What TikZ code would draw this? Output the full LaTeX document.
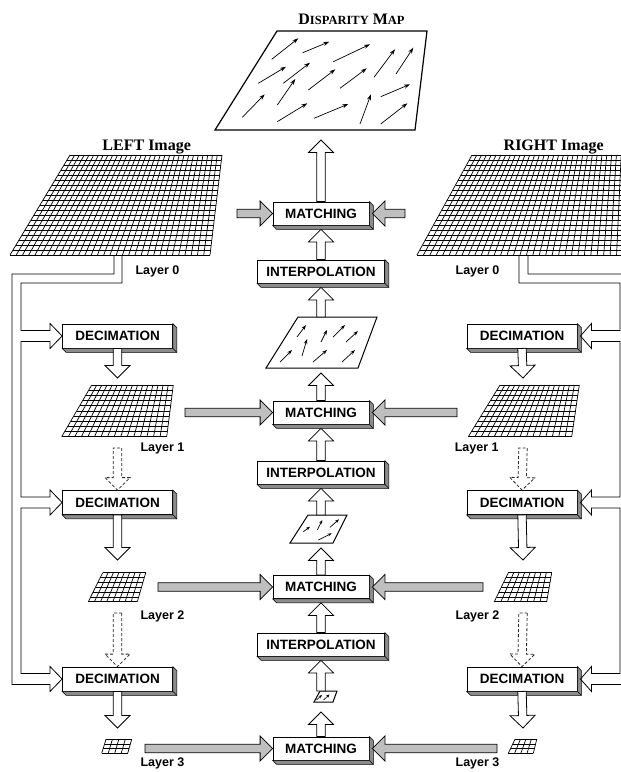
\documentclass[tikz,border=0pt]{standalone}
\usepackage{fontspec}
\setmainfont{Liberation Serif}
\setsansfont{Liberation Sans}
\usetikzlibrary{calc,arrows.meta}
\tikzset{
  box/.style={draw,fill=white,line width=0.8pt,inner sep=0pt,minimum height=23pt,
    font=\sffamily\bfseries\fontsize{13.5}{15}\selectfont},
  lay/.style={anchor=base,font=\sffamily\bfseries\fontsize{12.5}{14}\selectfont},
  ttl/.style={anchor=base,font=\bfseries\fontsize{16}{18}\selectfont},
  gridln/.style={line width=0.7pt},
  vec/.style={line width=0.7pt,-{Stealth[length=6pt,width=4pt]}},
  pipe/.style={line width=0.8pt,line join=miter},
  blk/.style={draw,fill=white,line width=0.8pt,
    to path={let \p1=(\tikztostart), \p2=(\tikztotarget), \p3=($(\p2)!12.5pt!(\p1)$) in
      ($(\p1)!4.2pt!90:(\p2)$) -- ($(\p3)!4.2pt!90:(\p2)$) -- ($(\p3)!12.5pt!90:(\p2)$)
      -- (\p2) -- ($(\p3)!12.5pt!-90:(\p2)$) -- ($(\p3)!4.2pt!-90:(\p2)$)
      -- ($(\p1)!4.2pt!-90:(\p2)$) -- cycle}},
  gblk/.style={blk,fill=black!25},
  dblk/.style={blk,dash pattern=on 3pt off 2pt,draw=black!85},
}
\newcommand{\smc}[1]{{\fontsize{12.5}{14}\selectfont #1}}
% perspective grid: corners TL, TR, BR, BL, columns, rows
\newcommand{\pgrid}[6]{%
  \foreach \i in {0,...,#5}
    \draw[gridln] ($#1!\i/#5!#2$) -- ($#4!\i/#5!#3$);
  \foreach \j in {0,...,#6}
    \draw[gridln] ($#1!\j/#6!#4$) -- ($#2!\j/#6!#3$);}
% 3d side of a box
\newcommand{\bevel}[1]{%
  \filldraw[fill=black!45,line width=0.6pt] (#1.north east) -- ($(#1.north east)+(4,4)$)
    -- ($(#1.south east)+(4,4)$) -- ($(#1.south west)+(4,4)$) -- (#1.south west)
    -- (#1.south east) -- cycle;
  \draw[line width=0.6pt] (#1.south east) -- ++(4,4);}

\begin{document}
\begin{tikzpicture}[x=1pt,y=-1pt]
\useasboundingbox (0,0) rectangle (621,772);
\clip (0,0) rectangle (621,772);
\fill[white] (0,0) rectangle (621,772);

% titles
\node[ttl] (tdisp) at (351.5,24) {D\smc{ISPARITY} M\smc{AP}};
\node[ttl] (tleft) at (146.7,150) {LEFT Image};
\node[ttl] (tright) at (553.7,150) {RIGHT Image};

% image pyramids
\pgrid{(70,155)}{(222,155)}{(210,255)}{(10,255)}{32}{20}
\pgrid{(472,155)}{(626,155)}{(623,255)}{(417,255)}{32}{20}
\pgrid{(91.7,385)}{(173.3,385)}{(166.7,436.7)}{(61.7,436.7)}{16}{10}
\pgrid{(500,385)}{(579.3,385)}{(571.7,436.7)}{(468.3,436.7)}{16}{10}
\pgrid{(102.7,572.7)}{(145.7,572.7)}{(137.3,601.7)}{(88.3,601.7)}{8}{6}
\pgrid{(508.3,572.7)}{(551.7,572.7)}{(546.7,601.7)}{(494.3,601.7)}{8}{6}
\pgrid{(106,739.3)}{(131.7,739.3)}{(127.7,753.3)}{(101.7,753.3)}{4}{3}
\pgrid{(515,739.3)}{(536.7,739.3)}{(533.3,753.3)}{(508.3,753.3)}{4}{3}

% disparity maps
\draw[line width=1.2pt] (277,31) -- (427,31) -- (415,130) -- (215,130) -- cycle;
\foreach \ax/\ay/\bx/\by in {271.7/59.3/298.3/38.3, 302.7/52.7/329.3/41.7,
  333.3/61.7/370/44.3, 374/77.3/395/49.3, 396/74/413.3/47.7, 258.3/83.3/286/66.7,
  283.3/83.3/310/62.7, 308.3/90/335.3/69.3, 340/88.3/366.7/68.3, 242.3/117.3/264.7/94.3,
  277.3/105/295.3/79, 277.3/121.7/307.3/103.3, 314/118.3/348.3/104, 360/124/371/94.3,
  380.7/96.7/410/84.3, 380.7/124/407.3/103.3}
  \draw[vec] (\ax,\ay) -- (\bx,\by);
\draw[line width=1pt] (298,317) -- (377,317) -- (358,368) -- (266,368) -- cycle;
\foreach \ax/\ay/\bx/\by in {297/337/306/325, 321/342/327/330, 333/337/345/325,
  346/342/358/331, 280/362/292/350, 302/356/307/339, 313/362/327/350, 342/362/355/350}
  \draw[vec,-{Stealth[length=5pt,width=3.5pt]}] (\ax,\ay) -- (\bx,\by);
\draw[line width=1pt] (308,515) -- (347,515) -- (333,543) -- (290,543) -- cycle;
\foreach \ax/\ay/\bx/\by in {303.3/531.7/310/526.7, 317.3/530/322.3/520,
  330/527.3/339/519.3, 318.3/540/331.7/533.3}
  \draw[vec,-{Stealth[length=4pt,width=3pt]}] (\ax,\ay) -- (\bx,\by);
\draw[line width=1pt] (320,691) -- (337,691) -- (333,702) -- (314,702) -- cycle;
\foreach \ax/\ay/\bx/\by in {316.5/700/322/695, 323.5/700/329.5/694.5}
  \draw[vec,line width=0.6pt,-{Stealth[length=3.5pt,width=3pt]}] (\ax,\ay) -- (\bx,\by);

% processing boxes
\node[box,minimum width=96pt] (match0) at (321,213.5) {MATCHING};
\node[box,minimum width=127pt] (interp0) at (321,271.5) {INTERPOLATION};
\node[box,minimum width=96pt] (match1) at (321,412.5) {MATCHING};
\node[box,minimum width=127pt] (interp1) at (321,472.5) {INTERPOLATION};
\node[box,minimum width=96pt] (match2) at (321,587) {MATCHING};
\node[box,minimum width=127pt] (interp2) at (321,644.5) {INTERPOLATION};
\node[box,minimum width=96pt] (match3) at (321,748.5) {MATCHING};
\node[box,minimum width=110pt,minimum height=24pt] (decL1) at (117.5,336) {DECIMATION};
\node[box,minimum width=110pt,minimum height=24pt] (decL2) at (117.5,502.5) {DECIMATION};
\node[box,minimum width=110pt,minimum height=24pt] (decL3) at (117.5,679) {DECIMATION};
\node[box,minimum width=110pt,minimum height=24pt] (decR1) at (522,336) {DECIMATION};
\node[box,minimum width=110pt,minimum height=24pt] (decR2) at (522,502.5) {DECIMATION};
\node[box,minimum width=110pt,minimum height=24pt] (decR3) at (522,679) {DECIMATION};
\foreach \b in {match0,interp0,match1,interp1,match2,interp2,match3,
  decL1,decL2,decL3,decR1,decR2,decR3}
  {\bevel{\b}}

% layer 0 feed lines
\draw[pipe] (122,255) |- (21,283) -- (21,330.5) -- (50,330.5) -- (50,323.5) -- (decL1.west)
  -- (50,348.5) -- (50,341.5) -- (21,341.5) -- (21,497) -- (50,497) -- (50,490) -- (decL2.west)
  -- (50,515) -- (50,508) -- (21,508) -- (21,673.5) -- (50,673.5) -- (50,666.5) -- (decL3.west)
  -- (50,691.5) -- (50,684.5) -- (12,684.5) -- (12,274) -- (114,274) -- (114,255);
\draw[pipe] (519,255) |- (620,283) -- (620,330.5) -- (591.5,330.5) -- (591.5,323.5)
  -- ($(decR1.east)+(3,0)$) -- (591.5,348.5) -- (591.5,341.5) -- (620,341.5) -- (620,497)
  -- (591.5,497) -- (591.5,490) -- ($(decR2.east)+(3,0)$) -- (591.5,515) -- (591.5,508)
  -- (620,508) -- (620,673.5) -- (591.5,673.5) -- (591.5,666.5) -- ($(decR3.east)+(3,0)$)
  -- (591.5,691.5) -- (591.5,684.5) -- (629,684.5) -- (629,274) -- (528,274) -- (528,255);

% connector ends
\coordinate (m0b) at (321,140);
\coordinate (m1t) at (321,317);   \coordinate (m1b) at (321,373);
\coordinate (m2t) at (321,515);   \coordinate (m2b) at (321,548);
\coordinate (m3t) at (321,691);   \coordinate (m3b) at (321,712);
\coordinate (gL1t) at (117.5,378); \coordinate (gL1b) at (117.5,448);
\coordinate (gL2t) at (117.5,560); \coordinate (gL2b) at (117.5,613);
\coordinate (gL3t) at (117.5,728);
\coordinate (gR1t) at (523,378);   \coordinate (gR1b) at (523,448);
\coordinate (gR2t) at (523,560);   \coordinate (gR2b) at (523,613);
\coordinate (gR3t) at (523,728);
\coordinate (hL0) at (237,213.5);  \coordinate (hR0) at (405,213.5);
\coordinate (hL1) at (185,412.5);  \coordinate (hR1) at (457,412.5);
\coordinate (hL2) at (158,587);    \coordinate (hR2) at (483,587);
\coordinate (hL3) at (145,748.5);  \coordinate (hR3) at (497,748.5);

% coarse to fine
\draw[blk] (match0.north) to (m0b);
\draw[blk] (interp0.north) to ($(match0.south)+(0,4)$);
\draw[blk] (m1t) to ($(interp0.south)+(0,4)$);
\draw[blk] (match1.north) to (m1b);
\draw[blk] (interp1.north) to ($(match1.south)+(0,4)$);
\draw[blk] (m2t) to ($(interp1.south)+(0,4)$);
\draw[blk] (match2.north) to (m2b);
\draw[blk] (interp2.north) to ($(match2.south)+(0,4)$);
\draw[blk] (m3t) to ($(interp2.south)+(0,4)$);
\draw[blk] (match3.north) to (m3b);

% decimation
\draw[blk] (decL1.south) to (gL1t);
\draw[blk] (decL2.south) to (gL2t);
\draw[blk] (decL3.south) to (gL3t);
\draw[blk] (decR1.south) to (gR1t);
\draw[blk] (decR2.south) to (gR2t);
\draw[blk] (decR3.south) to (gR3t);
\draw[dblk] (gL1b) to (decL2.north);
\draw[dblk] (gL2b) to (decL3.north);
\draw[dblk] (gR1b) to (decR2.north);
\draw[dblk] (gR2b) to (decR3.north);

% layers into matching
\draw[gblk] (hL0) to (match0.west);
\draw[gblk] (hR0) to ($(match0.east)+(3,0)$);
\draw[gblk] (hL1) to (match1.west);
\draw[gblk] (hR1) to ($(match1.east)+(3,0)$);
\draw[gblk] (hL2) to (match2.west);
\draw[gblk] (hR2) to ($(match2.east)+(3,0)$);
\draw[gblk] (hL3) to (match3.west);
\draw[gblk] (hR3) to ($(match3.east)+(3,0)$);

% layer labels
\node[lay] (lyL0) at (157.5,274) {Layer 0};
\node[lay] (lyR0) at (477.5,274) {Layer 0};
\node[lay] (lyL1) at (162.5,451) {Layer 1};
\node[lay] (lyR1) at (476.7,451) {Layer 1};
\node[lay] (lyL2) at (162.5,619) {Layer 2};
\node[lay] (lyR2) at (477.5,619) {Layer 2};
\node[lay] (lyL3) at (162.5,766.5) {Layer 3};
\node[lay] (lyR3) at (477.5,766.5) {Layer 3};
\end{tikzpicture}
\end{document}
